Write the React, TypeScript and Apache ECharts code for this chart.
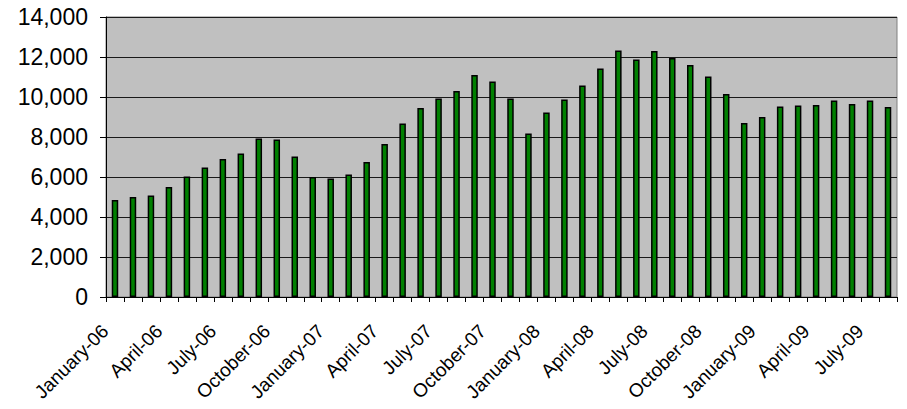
import React, { useEffect, useRef } from "react";
import * as echarts from "echarts";

const years = ["06", "07", "08", "09"];
const monthNames = [
  "January", "February", "March", "April", "May", "June",
  "July", "August", "September", "October", "November", "December",
];
const categories: string[] = [];
years.forEach((y, yi) => {
  monthNames.forEach((m, mi) => {
    if (yi === 3 && mi > 7) return;
    categories.push(`${m}-${y}`);
  });
});

const values2006 = [4850, 5000, 5070, 5500, 6030, 6470, 6900, 7180, 7920, 7870, 7030, 6000];
const values2007 = [5920, 6130, 6750, 7650, 8670, 9450, 9930, 10300, 11100, 10770, 9930, 8180];
const values2008 = [9220, 9880, 10580, 11430, 12320, 11870, 12300, 11950, 11600, 11030, 10150, 8700];
const values2009 = [9000, 9520, 9580, 9600, 9830, 9650, 9830, 9500];
const values = [...values2006, ...values2007, ...values2008, ...values2009];

const yTicks = { min: 0, max: 14000, interval: 2000 };

const FONT = "'Liberation Sans', Arial, sans-serif";

export default function App() {
  const ref = useRef<HTMLDivElement>(null);
  useEffect(() => {
    if (!ref.current) return;
    const chart = echarts.init(ref.current, undefined, { renderer: "svg" });
    chart.setOption({
      animation: false,
      backgroundColor: "#ffffff",
      grid: {
        left: 106,
        top: 17,
        right: 10,
        bottom: 112,
        containLabel: false,
        outerBoundsMode: "none",
        show: true,
        backgroundColor: "#C0C0C0",
        borderColor: "#808080",
        borderWidth: 1,
      },
      xAxis: {
        type: "category",
        data: categories,
        boundaryGap: true,
        axisLine: { show: true, lineStyle: { color: "#000000", width: 1 } },
        axisTick: {
          show: true,
          interval: 0,
          alignWithLabel: false,
          length: 5,
          lineStyle: { color: "#000000" },
        },
        axisLabel: {
          interval: 2,
          rotate: 45,
          margin: 21,
          padding: [0, 14, 0, 0],
          color: "#000000",
          fontFamily: FONT,
          fontSize: 19,
        },
        splitLine: { show: false },
      },
      yAxis: {
        type: "value",
        min: yTicks.min,
        max: yTicks.max,
        interval: yTicks.interval,
        axisLine: { show: true, lineStyle: { color: "#000000", width: 1 } },
        axisTick: { show: true, length: 6, lineStyle: { color: "#000000" } },
        axisLabel: {
          margin: 18,
          color: "#000000",
          fontFamily: FONT,
          fontSize: 23,
          formatter: (v: number) => v.toLocaleString("en-US"),
        },
        splitLine: { show: true, lineStyle: { color: "#1a1a1a", width: 1 } },
      },
      series: [
        {
          type: "bar",
          data: values,
          barWidth: 6.5,
          itemStyle: {
            color: "#008000",
            borderColor: "#000000",
            borderWidth: 1.5,
          },
        },
      ],
    });
    return () => chart.dispose();
  }, []);
  return (
    <div
      ref={ref}
      style={{ position: "absolute", left: 0, top: 0, width: 907, height: 409 }}
    />
  );
}
